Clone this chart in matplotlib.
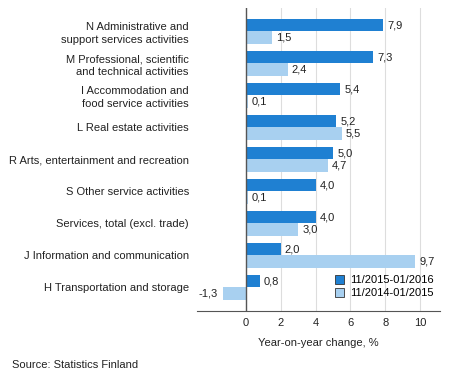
import matplotlib
matplotlib.use("Agg")
import matplotlib.pyplot as plt
import numpy as np

plt.rcParams['font.family'] = ['Liberation Sans', 'DejaVu Sans']

categories = [
    "N Administrative and\nsupport services activities",
    "M Professional, scientific\nand technical activities",
    "I Accommodation and\nfood service activities",
    "L Real estate activities",
    "R Arts, entertainment and recreation",
    "S Other service activities",
    "Services, total (excl. trade)",
    "J Information and communication",
    "H Transportation and storage",
]
period_2016 = [7.9, 7.3, 5.4, 5.2, 5.0, 4.0, 4.0, 2.0, 0.8]
period_2015 = [1.5, 2.4, 0.1, 5.5, 4.7, 0.1, 3.0, 9.7, -1.3]
series_names = ["11/2015-01/2016", "11/2014-01/2015"]
xticks = [0, 2, 4, 6, 8, 10]

dark = "#1f80d2"
light = "#a8d0f0"
fs = 8

fig = plt.figure(figsize=(4.5, 3.8), dpi=100)
ax = fig.add_axes([0.438, 0.182, 0.54, 0.797])

y = np.arange(len(categories))
h = 0.39
b1 = ax.barh(y - h / 2, period_2016, height=h, color=dark, label=series_names[0])
b2 = ax.barh(y + h / 2, period_2015, height=h, color=light, label=series_names[1])


def fmt(v):
    return f"{v:.1f}".replace(".", ",")


for bars, vals in ((b1, period_2016), (b2, period_2015)):
    for bar, v in zip(bars, vals):
        yc = bar.get_y() + bar.get_height() / 2
        if v >= 0:
            ax.annotate(fmt(v), (v, yc), xytext=(3, 0), textcoords="offset points",
                        ha="left", va="center", fontsize=fs, color="#222222")
        else:
            ax.annotate(fmt(v), (v, yc), xytext=(-4, 0), textcoords="offset points",
                        ha="right", va="center", fontsize=fs, color="#222222")

ax.set_xlim(-2.8, 11.15)
ax.set_ylim(8.73, -0.73)
ax.set_yticks(y)
ax.set_yticklabels(categories, fontsize=fs, ha="right", linespacing=1.3)
ax.set_xticks(xticks)
ax.set_xticklabels([str(t) for t in xticks], fontsize=fs)
ax.tick_params(axis="both", length=0, pad=5, colors="#222222")
ax.tick_params(axis="y", pad=6)

ax.grid(axis="x", color="#dddddd", linewidth=0.8)
ax.set_axisbelow(True)
for s in ("top", "right", "left"):
    ax.spines[s].set_visible(False)
ax.spines["bottom"].set_color("#555555")
ax.axvline(0, color="#555555", linewidth=1, zorder=3)

ax.set_xlabel("Year-on-year change, %", fontsize=fs, color="#222222", labelpad=7)

leg = ax.legend(loc="lower right", bbox_to_anchor=(1.0, 0.02), fontsize=fs, frameon=False,
                handlelength=0.8, handleheight=0.8, handletextpad=0.5, labelspacing=0.25,
                borderaxespad=0.2)
for patch in leg.get_patches():
    patch.set_edgecolor("#333333")
    patch.set_linewidth(0.6)

fig.text(12 / 450, 1 - 365 / 380, "Source: Statistics Finland", fontsize=fs,
         color="#222222", va="center", ha="left")

fig.savefig("out.png", dpi=100)
